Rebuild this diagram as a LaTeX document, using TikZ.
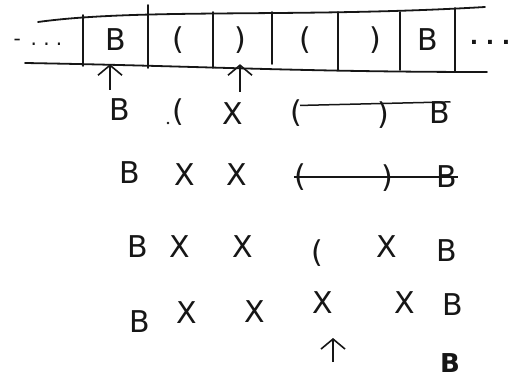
\documentclass[tikz,border=0pt]{standalone}
\usepackage{fontspec}
\setsansfont{DejaVu Sans}
\usepackage{xcolor}
\usepackage{tikz}
\usetikzlibrary{arrows.meta}
\definecolor{ink}{HTML}{161616}

\begin{document}
\begin{tikzpicture}[x=1pt,y=-1pt,
    sym/.style={inner sep=0pt, text=ink, font=\sffamily\fontsize{30}{32}\selectfont},
    cell/.style={sym, minimum width=50pt, minimum height=48pt},
    tape/.style={draw=ink, line width=1.8pt, line cap=round},
    head/.style={draw=ink, line width=1.6pt, -{Straight Barb[length=10pt,width=24pt,line width=1.6pt]}},
    strike/.style={draw=ink, line width=1.5pt}]
  \useasboundingbox[fill=white] (0,0) rectangle (518,382);

  % tape
  \draw[tape] (38,22) .. controls (140,8) and (300,18) .. (485,7);
  \draw[tape] (25,63) .. controls (200,66) and (300,72) .. (487,72);
  \foreach \x/\a/\b in {83/15/66, 148/5/68, 213/12/68, 272/12/64, 338/12/70, 400/12/70, 455/8/72}
    \draw[tape] (\x,\a) -- (\x,\b);
  \node[sym, font=\sffamily\fontsize{20}{22}\selectfont] (ldots) at (38,42) {-\,\ .\ .\ .};
  \node[sym, font=\sffamily\bfseries\fontsize{22}{24}\selectfont] (rdots) at (490,42) {.\ .\ .};

  \node[cell] (t1) at (116,40) {B};
  \node[cell] (t2) at (178,40) {(};
  \node[cell] (t3) at (240,40) {)};
  \node[cell] (t4) at (305,40) {(};
  \node[cell] (t5) at (375,40) {)};
  \node[cell] (t6) at (428,40) {B};

  \coordinate (h1) at (110,90);
  \coordinate (h2) at (240,92);
  \draw[head] (h1) -- (h1 |- t1.south);
  \draw[head] (h2) -- (h2 |- t3.south);

  % row 1
  \node[sym] (r1c1) at (120,110) {B};
  \node[sym] (r1c2) at (178,112) {(};
  \fill[ink] (168,123) circle (1.4pt);
  \node[sym] (r1c3) at (233,114) {X};
  \node[sym] (r1c4) at (296,113) {(};
  \node[sym] (r1c5) at (383,115) {)};
  \node[sym] (r1c6) at (440,113) {B};
  \draw[strike] (r1c4.north) ++(4,6) coordinate (s1) -- (r1c6.north east) coordinate (e1);

  % row 2
  \node[sym] (r2c1) at (130,173) {B};
  \node[sym] (r2c2) at (185,175) {X};
  \node[sym] (r2c3) at (237,175) {X};
  \node[sym] (r2c4) at (300,177) {(};
  \node[sym] (r2c5) at (387,178) {)};
  \node[sym] (r2c6) at (447,177) {B};
  \draw[strike] (r2c4.west) -- (r2c6.east);

  % row 3
  \node[sym] (r3c1) at (138,247) {B};
  \node[sym] (r3c2) at (180,247) {X};
  \node[sym] (r3c3) at (243,247) {X};
  \node[sym] (r3c4) at (317,253) {(};
  \node[sym] (r3c5) at (387,247) {X};
  \node[sym] (r3c6) at (447,251) {B};

  % row 4
  \node[sym] (r4c1) at (140,322) {B};
  \node[sym] (r4c2) at (187,313) {X};
  \node[sym] (r4c3) at (255,312) {X};
  \node[sym] (r4c4) at (323,303) {X};
  \node[sym] (r4c5) at (405,303) {X};
  \node[sym] (r4c6) at (453,305) {B};
  \coordinate (h3) at (333,362);
  \coordinate (h3top) at (333,338);
  \draw[head] (h3) -- (h3top);
  \node[sym, font=\sffamily\bfseries\fontsize{26}{28}\selectfont] (r5c6) at (450,363) {B};
\end{tikzpicture}
\end{document}
